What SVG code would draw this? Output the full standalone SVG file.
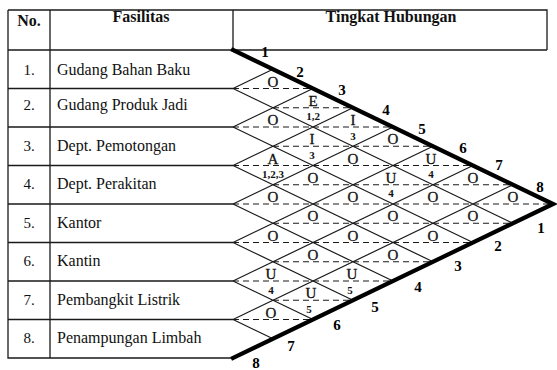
<svg xmlns="http://www.w3.org/2000/svg" width="557" height="370" viewBox="0 0 557 370">
<style>
.t{stroke:#1a1a1a;stroke-width:1.3;fill:none}
.d{stroke:#1a1a1a;stroke-width:1.2;fill:none}
.ds{stroke:#1a1a1a;stroke-width:1.2;stroke-dasharray:6 4;fill:none}
.k{stroke:#000;stroke-width:4.2;fill:none;stroke-linecap:square}
.h{font-family:"Liberation Serif",serif;font-size:16px;font-weight:bold;fill:#111;text-anchor:middle}
.n{font-family:"Liberation Serif",serif;font-size:15px;fill:#111;text-anchor:middle}
.f{font-family:"Liberation Serif",serif;font-size:16px;fill:#111}
.l{font-family:"Liberation Serif",serif;font-size:15px;fill:#111;text-anchor:middle;stroke:#111;stroke-width:0.3}
.r{font-family:"Liberation Serif",serif;font-size:11px;font-weight:bold;fill:#111;text-anchor:middle}
.b{font-family:"Liberation Serif",serif;font-size:15px;font-weight:bold;fill:#000;text-anchor:middle}
</style>
<rect width="557" height="370" fill="#fff"/>
<g id="table">
<path class="t" d="M8 10H547V50M8 10V358H233M8 50H547M50 10V358M233 10V50M8 88.5H233M8 127H233M8 165.5H233M8 204H233M8 242.5H233M8 281H233M8 319.5H233"/>
<text class="h" x="29" y="26">No.</text>
<text class="h" x="141" y="22">Fasilitas</text>
<text class="h" x="391" y="22">Tingkat Hubungan</text>
</g>
<g id="row1"><text class="n" x="29" y="75">1.</text><text class="f" x="57" y="75">Gudang Bahan Baku</text></g>
<g id="row2"><text class="n" x="29" y="110">2.</text><text class="f" x="57" y="110">Gudang Produk Jadi</text></g>
<g id="row3"><text class="n" x="29" y="151">3.</text><text class="f" x="57" y="151">Dept. Pemotongan</text></g>
<g id="row4"><text class="n" x="29" y="189">4.</text><text class="f" x="57" y="189">Dept. Perakitan</text></g>
<g id="row5"><text class="n" x="29" y="228">5.</text><text class="f" x="57" y="228">Kantor</text></g>
<g id="row6"><text class="n" x="29" y="266">6.</text><text class="f" x="57" y="266">Kantin</text></g>
<g id="row7"><text class="n" x="29" y="305">7.</text><text class="f" x="57" y="305">Pembangkit Listrik</text></g>
<g id="row8"><text class="n" x="29" y="343">8.</text><text class="f" x="57" y="343">Penampungan Limbah</text></g>
<g id="connectors">
<path class="d" d="M233 88.5L273 69.25M233 88.5L513 223.25M233 127L313 88.5M233 127L473 242.5M233 165.5L353 107.75M233 165.5L433 261.75M233 204L393 127M233 204L393 281M233 242.5L433 146.25M233 242.5L353 300.25M233 281L473 165.5M233 281L313 319.5M233 319.5L513 184.75M233 319.5L273 338.75"/>
<path class="ds" d="M233 88.5H313M273 107.75H353M233 127H393M273 146.25H433M233 165.5H473M273 184.75H513M233 204H553M273 223.25H513M233 242.5H473M273 261.75H433M233 281H393M273 300.25H353M233 319.5H313"/>
<path class="k" d="M233 50L553 204L233 358"/>
</g>
<g id="top-labels">
<text class="b" x="265" y="57">1</text><text class="b" x="300" y="77">2</text><text class="b" x="342" y="95">3</text><text class="b" x="386" y="115">4</text><text class="b" x="422" y="134">5</text><text class="b" x="463" y="153">6</text><text class="b" x="499" y="170">7</text><text class="b" x="540" y="192">8</text>
</g>
<g id="bottom-labels">
<text class="b" x="541" y="233">1</text><text class="b" x="498" y="251">2</text><text class="b" x="458" y="271">3</text><text class="b" x="418" y="292">4</text><text class="b" x="375" y="312">5</text><text class="b" x="337" y="330">6</text><text class="b" x="291" y="351">7</text><text class="b" x="256" y="368">8</text>
</g>
<g id="p12"><text class="l" x="273" y="86.5">O</text></g>
<g id="p13"><text class="l" x="313" y="105.75">E</text><text class="r" x="313" y="120">1,2</text></g>
<g id="p14"><text class="l" x="353" y="125">I</text><text class="r" x="353" y="139.5">3</text></g>
<g id="p15"><text class="l" x="393" y="144.25">O</text></g>
<g id="p16"><text class="l" x="431" y="163.5">U</text><text class="r" x="431" y="178">4</text></g>
<g id="p17"><text class="l" x="473" y="182.75">O</text></g>
<g id="p18"><text class="l" x="513" y="202">O</text></g>
<g id="p23"><text class="l" x="273" y="125">O</text></g>
<g id="p24"><text class="l" x="312" y="144.25">I</text><text class="r" x="312" y="158.5">3</text></g>
<g id="p25"><text class="l" x="353" y="163.5">O</text></g>
<g id="p26"><text class="l" x="391" y="182.75">U</text><text class="r" x="391" y="197">4</text></g>
<g id="p27"><text class="l" x="433" y="202">O</text></g>
<g id="p28"><text class="l" x="473" y="221.25">O</text></g>
<g id="p34"><text class="l" x="273" y="163.5">A</text><text class="r" x="273" y="178">1,2,3</text></g>
<g id="p35"><text class="l" x="313" y="182.75">O</text></g>
<g id="p36"><text class="l" x="353" y="202">O</text></g>
<g id="p37"><text class="l" x="393" y="221.25">O</text></g>
<g id="p38"><text class="l" x="433" y="240.5">O</text></g>
<g id="p45"><text class="l" x="273" y="202">O</text></g>
<g id="p46"><text class="l" x="313" y="221.25">O</text></g>
<g id="p47"><text class="l" x="353" y="240.5">O</text></g>
<g id="p48"><text class="l" x="393" y="259.75">O</text></g>
<g id="p56"><text class="l" x="273" y="240.5">O</text></g>
<g id="p57"><text class="l" x="313" y="259.75">O</text></g>
<g id="p58"><text class="l" x="352" y="279">U</text><text class="r" x="350" y="293.5">5</text></g>
<g id="p67"><text class="l" x="271" y="279">U</text><text class="r" x="271" y="293.5">4</text></g>
<g id="p68"><text class="l" x="311" y="298.25">U</text><text class="r" x="309" y="312.5">5</text></g>
<g id="p78"><text class="l" x="271" y="317.5">O</text></g>
</svg>
